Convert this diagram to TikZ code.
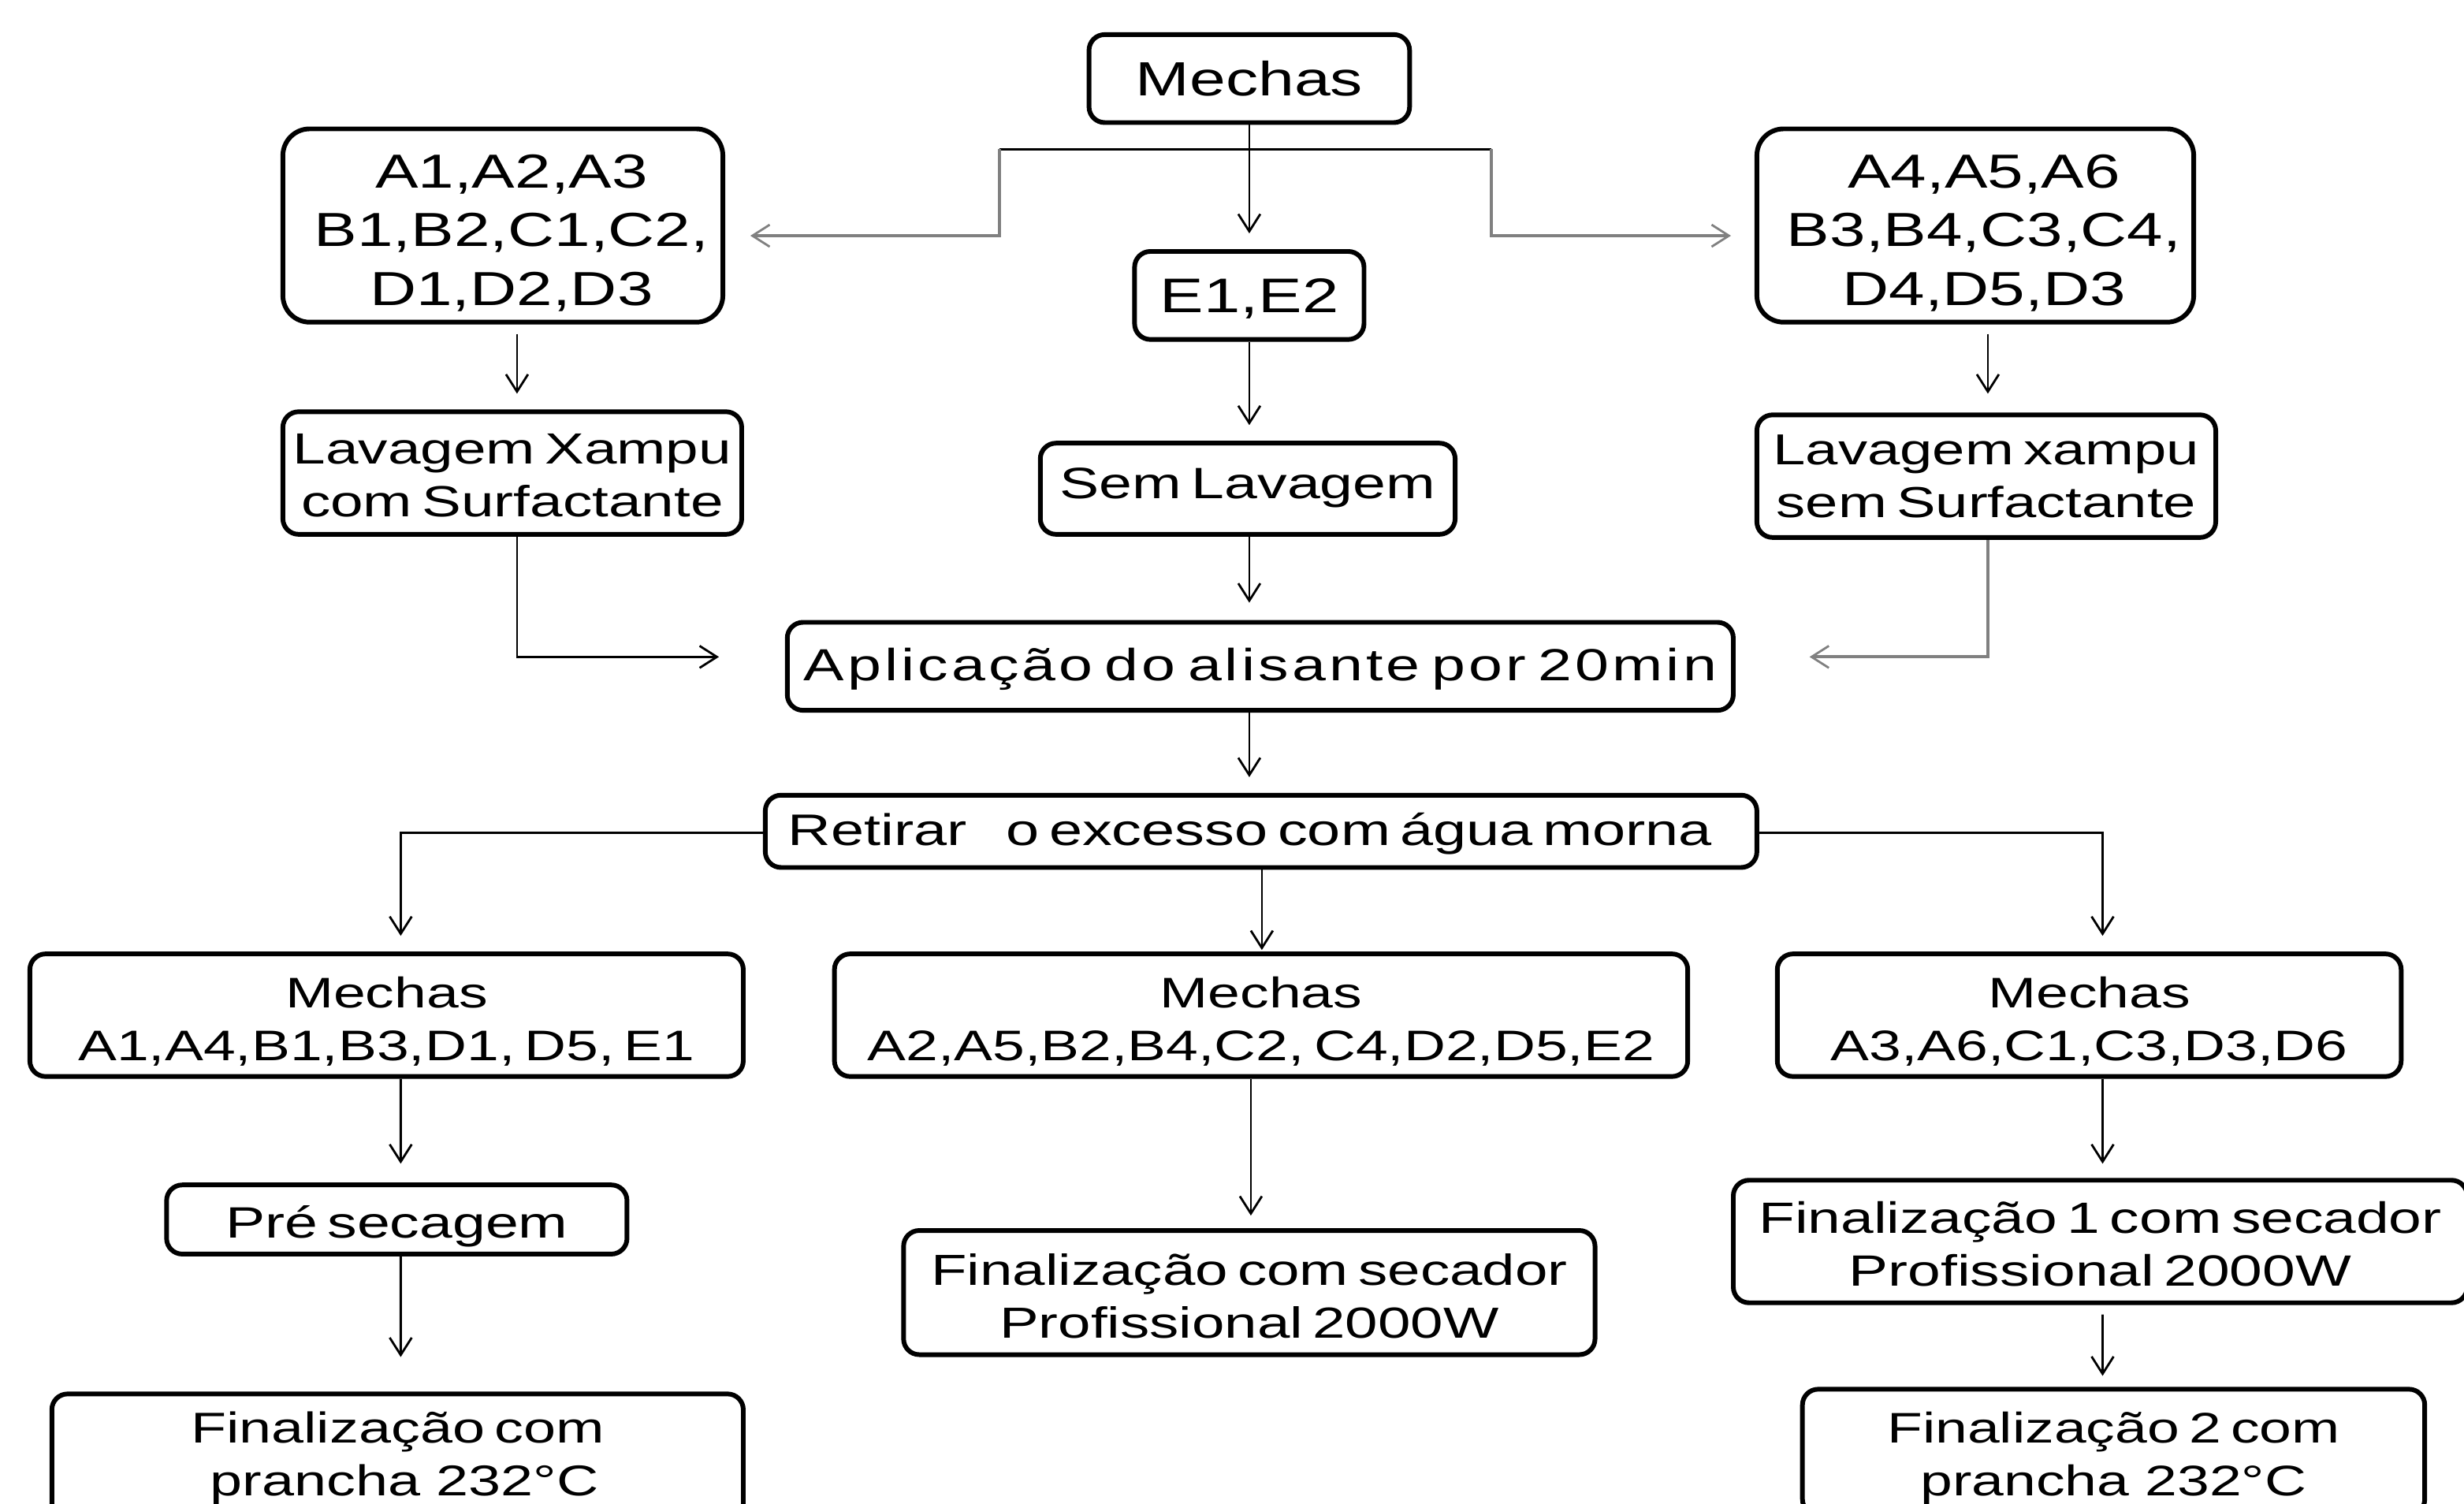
\documentclass[tikz,border=0pt]{standalone}
\usepackage{fontspec}
\setmainfont{Liberation Sans}[FakeStretch=1.35,WordSpace=0.6]
\usetikzlibrary{arrows.meta,calc}
\newcommand{\tb}[3][0pt]{\hspace*{#1}\raisebox{-#2}[\height][\depth]{\begin{tabular}{@{}c@{}}#3\end{tabular}}}
\begin{document}
\begin{tikzpicture}[x=0.02cm,y=-0.02cm,
  wh/.style 2 args={minimum width=#1*0.02cm,minimum height=#2*0.02cm},
  fs/.style={font=\fontsize{#1}{19.1}\selectfont},
  box/.style={draw,line width=1.7pt,rounded corners=0.2cm,inner sep=0pt,fs=15.6},
  grp/.style={box,rounded corners=0.34cm,font=\fontsize{17.3}{21.3}\selectfont},
  arr/.style={line width=0.8pt,-{Straight Barb[length=0.22cm,width=0.28cm,line width=0.8pt]}},
  garr/.style={arr,draw=gray,line width=1.1pt}]
\useasboundingbox (0,0) rectangle (1568,957);
\clip (0,0) rectangle (1568,957);
\node[box,wh={204}{56},fs=17.4] (mtop) at (795,50) {\tb{2.3pt}{Mechas}};
\node[grp,wh={280}{123}] (gL) at (320,143.5) {\tb[6.3pt]{3.36pt}{A1,A2,A3\\B1,B2,C1,C2,\\D1,D2,D3}};
\node[box,wh={146}{56},fs=17.6] (e12) at (795,188) {\tb{2.3pt}{E1,E2}};
\node[grp,wh={278}{123}] (gR) at (1257,143.5) {\tb[6.3pt]{3.36pt}{A4,A5,A6\\B3,B4,C3,C4,\\D4,D5,D3}};
\node[box,wh={292}{78},fs=15.8] (lavL) at (326,301) {\tb{2.45pt}{Lavagem Xampu\\com Surfactante}};
\node[box,wh={264}{58},fs=15.9] (sem) at (794,311) {\tb{-0.4pt}{Sem Lavagem}};
\node[box,wh={292}{78},fs=15.7] (lavR) at (1264,303) {\tb{1.6pt}{Lavagem xampu\\sem Surfactante}};
\node[box,wh={602}{56},font=\fontsize{16.3}{19.1}\selectfont\addfontfeatures{LetterSpace=7.2}] (apl) at (802,424) {\tb{1.31pt}{Aplicação do alisante por 20min}};
\node[box,wh={631}{46},fs=16] (ret) at (802.5,529) {\tb[-8pt]{1.31pt}{Retirar\hspace{0.5cm}o excesso com água morna}};
\node[box,wh={454}{78},fs=15.5] (m1) at (246,646) {\tb{3pt}{Mechas\\A1,A4,B1,B3,D1, D5, E1}};
\node[box,wh={543}{78},fs=15.5] (m2) at (802.5,646) {\tb{3pt}{Mechas\\A2,A5,B2,B4,C2, C4,D2,D5,E2}};
\node[box,wh={397}{78},fs=15.5] (m3) at (1329.5,646) {\tb{3pt}{Mechas\\A3,A6,C1,C3,D3,D6}};
\node[box,wh={293}{44},fs=15.9] (pre) at (252.5,776) {\tb{3pt}{Pré secagem}};
\node[box,wh={440}{79},fs=15.75] (fin) at (795,822.5) {\tb{3pt}{Finalização com secador\\Profissional 2000W}};
\node[box,wh={467}{78},fs=15.85] (fin1) at (1336.5,790) {\tb{2.73pt}{Finalização 1 com secador\\Profissional 2000W}};
\node[box,wh={440}{80},fs=15.6] (finP) at (253,927) {\tb{0.74pt}{Finalização com\\\hspace*{5pt}prancha\hspace{0.08cm} 232°C}};
\node[box,wh={396}{80},fs=15.5] (fin2) at (1345,924) {\tb{2.45pt}{Finalização 2 com\\prancha\hspace{0.08cm} 232°C}};
% connectors
\draw[arr,shorten >=0.2cm] (mtop) -- (e12);
\coordinate (bL) at (636,95);
\coordinate (bR) at (949,95);
\draw[line width=0.8pt] (bL) -- (bR);
\draw[garr] (bL) |- ($(gL.east)+(16,6.5)$);
\draw[garr] (bR) |- ($(gR.west)+(-15,6.5)$);
\draw[arr] ($(gL.south)+(9,6)$) -- ($(lavL.north)+(3,-10)$);
\draw[arr] ($(gR.south)+(8,6)$) -- ($(lavR.north)+(1,-12)$);
\draw[arr] (e12.south) -- ($(sem.north)+(1,-10)$);
\draw[arr] ($(sem.south)+(1,0)$) -- ($(apl.north)+(-7,-11)$);
\draw[arr] ($(lavL.south)+(3,0)$) |- ($(apl.west)+(-42,-6)$);
\draw[garr] ($(lavR.south)+(1,0)$) |- ($(apl.east)+(47,-6)$);
\draw[arr] ($(apl.south)+(-7,0)$) -- ($(ret.north)+(-7.5,-10)$);
\draw[arr] ($(ret.west)+(0,1)$) -| ($(m1.north)+(9,-10)$);
\draw[arr] ($(ret.east)+(0,1)$) -| ($(m3.north)+(8.5,-10)$);
\draw[arr] ($(ret.south)+(0.5,0)$) -- ($(m2.north)+(0.5,-1)$);
\draw[arr] ($(m1.south)+(9,0)$) -- ($(pre.north)+(2.5,-12)$);
\draw[arr] ($(pre.south)+(2.5,0)$) -- ($(finP.north)+(2,-22)$);
\draw[arr] ($(m2.south)+(-6.5,0)$) -- ($(fin.north)+(1,-8)$);
\draw[arr] ($(m3.south)+(8.5,0)$) -- ($(fin1.north)+(1.5,-9)$);
\draw[arr] ($(fin1.south)+(1.5,6)$) -- ($(fin2.north)+(-7,-7)$);
\end{tikzpicture}
\end{document}
